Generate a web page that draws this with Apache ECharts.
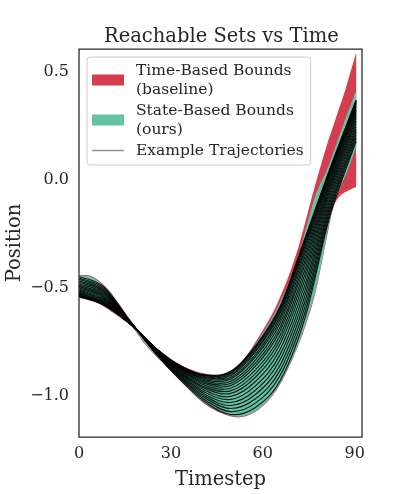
<!DOCTYPE html>
<html>
<head>
<meta charset="utf-8">
<script src="https://cdn.jsdelivr.net/npm/echarts@6/dist/echarts.min.js"></script>
<style>
  html, body { margin: 0; padding: 0; background: #fff; }
  #chart { width: 395px; height: 494px; }
</style>
</head>
<body>
<div id="chart"></div>
<script>
// band boundaries
const bandSteps = [0, 4, 9.1, 13.1, 17.2, 22.2, 28.3, 34.4, 40.4, 46.5, 52.6, 58.6, 64.7, 70.8, 76.8, 80.9, 82.9, 84.9, 86.9, 90.5]
const timeUpper = [-0.442, -0.446, -0.501, -0.576, -0.658, -0.741, -0.816, -0.866, -0.896, -0.901, -0.851, -0.730, -0.575, -0.350, -0.040, 0.160, 0.245, 0.330, 0.415, 0.590]
const timeLower = [-0.549, -0.556, -0.596, -0.636, -0.680, -0.774, -0.862, -0.951, -1.032, -1.082, -1.101, -1.066, -0.970, -0.795, -0.545, -0.270, -0.135, -0.080, -0.058, -0.032]
const stateUpper = [-0.446, -0.450, -0.505, -0.580, -0.662, -0.745, -0.820, -0.870, -0.900, -0.905, -0.855, -0.740, -0.595, -0.390, -0.090, 0.045, 0.120, 0.200, 0.280, 0.415]
const stateLower = [-0.545, -0.552, -0.592, -0.632, -0.676, -0.770, -0.858, -0.947, -1.028, -1.078, -1.097, -1.062, -0.965, -0.790, -0.535, -0.260, -0.120, -0.045, 0.015, 0.150]

// example trajectories
const trajSteps = [0, 8.1, 17.2, 25.3, 33.4, 41.4, 49.5, 57.6, 65.7, 73.8, 81.9, 90.5]
const trajectories = [
  [-0.448, -0.496, -0.664, -0.810, -0.932, -1.032, -1.088, -1.055, -0.930, -0.640, -0.170, 0.180],
  [-0.455, -0.502, -0.665, -0.808, -0.927, -1.023, -1.074, -1.035, -0.906, -0.614, -0.155, 0.193],
  [-0.461, -0.508, -0.665, -0.806, -0.922, -1.014, -1.060, -1.015, -0.882, -0.588, -0.139, 0.207],
  [-0.468, -0.514, -0.666, -0.804, -0.918, -1.005, -1.046, -0.995, -0.858, -0.562, -0.124, 0.220],
  [-0.474, -0.520, -0.667, -0.802, -0.913, -0.996, -1.032, -0.975, -0.833, -0.536, -0.108, 0.233],
  [-0.481, -0.526, -0.668, -0.801, -0.908, -0.987, -1.018, -0.955, -0.809, -0.510, -0.093, 0.247],
  [-0.488, -0.532, -0.668, -0.799, -0.903, -0.978, -1.004, -0.935, -0.785, -0.485, -0.078, 0.260],
  [-0.494, -0.538, -0.669, -0.797, -0.899, -0.969, -0.990, -0.915, -0.761, -0.459, -0.062, 0.273],
  [-0.500, -0.543, -0.670, -0.795, -0.895, -0.962, -0.978, -0.898, -0.740, -0.436, -0.049, 0.285],
  [-0.505, -0.548, -0.670, -0.794, -0.891, -0.954, -0.966, -0.881, -0.720, -0.414, -0.036, 0.296],
  [-0.511, -0.553, -0.671, -0.792, -0.886, -0.946, -0.954, -0.864, -0.699, -0.392, -0.023, 0.307],
  [-0.516, -0.557, -0.671, -0.791, -0.883, -0.940, -0.944, -0.850, -0.682, -0.374, -0.012, 0.317],
  [-0.520, -0.562, -0.672, -0.789, -0.880, -0.933, -0.934, -0.836, -0.664, -0.355, -0.001, 0.326],
  [-0.525, -0.566, -0.672, -0.788, -0.876, -0.927, -0.924, -0.821, -0.647, -0.337, 0.010, 0.336],
  [-0.529, -0.569, -0.673, -0.787, -0.874, -0.922, -0.916, -0.810, -0.633, -0.322, 0.019, 0.343],
  [-0.533, -0.573, -0.673, -0.786, -0.871, -0.917, -0.908, -0.798, -0.619, -0.307, 0.028, 0.351],
  [-0.535, -0.575, -0.673, -0.785, -0.869, -0.913, -0.902, -0.790, -0.609, -0.296, 0.035, 0.357],
  [-0.538, -0.578, -0.674, -0.784, -0.867, -0.909, -0.896, -0.781, -0.599, -0.285, 0.041, 0.362],
  [-0.540, -0.579, -0.674, -0.784, -0.865, -0.907, -0.892, -0.776, -0.592, -0.277, 0.046, 0.366],
  [-0.542, -0.581, -0.674, -0.783, -0.864, -0.904, -0.888, -0.770, -0.585, -0.270, 0.050, 0.370]
]

const xTicks = [0, 30, 60, 90]
const yTicks = [-1.0, -0.5, 0.0, 0.5]

const RED = '#d53e4f'
const GREEN = '#66c2a5'
const LEGEND_LINE = '#8c8c8c'
const INK = '#262626'
const FONT = 'DejaVu Serif'

const timeName = 'Time-Based Bounds\n(baseline)'
const stateName = 'State-Based Bounds\n(ours)'
const trajName = 'Example Trajectories'

// smooth curve through pixel points (cubic Hermite along x)
const bezierSegs = (pts) => {
  const n = pts.length
  const slope = (i) => {
    const a = pts[Math.max(i - 1, 0)]
    const b = pts[Math.min(i + 1, n - 1)]
    return (b[1] - a[1]) / (b[0] - a[0])
  }
  const segs = []
  for (let i = 0; i < n - 1; i++) {
    const p = pts[i]
    const q = pts[i + 1]
    const d = (q[0] - p[0]) / 3
    segs.push([p, [p[0] + d, p[1] + slope(i) * d], [q[0] - d, q[1] - slope(i + 1) * d], q])
  }
  return segs
}
const fwd = (segs) => segs.map((s) => `C${s[1]} ${s[2]} ${s[3]}`).join('')
const back = (segs) => segs.slice().reverse().map((s) => `C${s[2]} ${s[1]} ${s[0]}`).join('')

// band: area between upper and lower curves
const bandSeries = (name, lower, upper, color) => ({
  type: 'custom', name, coordinateSystem: 'cartesian2d', silent: true,
  itemStyle: { color },
  data: [[bandSteps[0], upper[0]]],
  renderItem: (params, api) => {
    const up = bezierSegs(bandSteps.map((t, i) => api.coord([t, upper[i]])))
    const lo = bezierSegs(bandSteps.map((t, i) => api.coord([t, lower[i]])))
    const last = lo[lo.length - 1][3]
    return {
      type: 'path',
      shape: { pathData: `M${up[0][0]}${fwd(up)}L${last}${back(lo)}Z` },
      style: { fill: color, stroke: null },
    }
  },
})

const trajSeries = {
  type: 'custom', name: trajName, coordinateSystem: 'cartesian2d', silent: true,
  itemStyle: { color: '#000' },
  data: trajectories.map((ys) => [trajSteps[0], ys[0]]),
  renderItem: (params, api) => {
    const ys = trajectories[params.dataIndex]
    const segs = bezierSegs(trajSteps.map((t, i) => api.coord([t, ys[i]])))
    return {
      type: 'path',
      shape: { pathData: `M${segs[0][0]}${fwd(segs)}` },
      style: { fill: null, stroke: '#000', lineWidth: 1.2, opacity: 0.85 },
    }
  },
}

const myChart = echarts.init(document.getElementById('chart'))
myChart.setOption({
  animation: false,
  title: {
    text: 'Reachable Sets vs Time',
    left: 99, top: 22,
    textStyle: { fontFamily: FONT, fontSize: 19.5, fontWeight: 'normal', color: INK },
  },
  legend: {
    left: 87, top: 57, orient: 'vertical', align: 'left',
    padding: [4, 7, 5, 5], itemGap: 2, itemWidth: 32, itemHeight: 11,
    backgroundColor: 'rgba(255,255,255,0.8)', borderColor: '#cccccc', borderWidth: 1, borderRadius: 3,
    textStyle: { fontFamily: FONT, fontSize: 15.5, lineHeight: 19, color: INK, padding: [0, 0, 0, 7] },
    data: [
      { name: timeName, icon: 'rect', itemStyle: { color: RED } },
      { name: stateName, icon: 'rect', itemStyle: { color: GREEN } },
      { name: trajName, icon: 'path://M0,0H32V1.4H0Z', itemStyle: { color: LEGEND_LINE } },
    ],
  },
  grid: {
    left: 79, right: 33, top: 49, bottom: 57, outerBoundsMode: 'none', containLabel: false,
    show: true, borderColor: INK, borderWidth: 1.25, backgroundColor: '#fff',
  },
  xAxis: {
    type: 'value', min: 0, max: 92.4,
    name: 'Timestep', nameLocation: 'middle', nameGap: 33, nameMoveOverlap: false,
    nameTextStyle: { fontFamily: FONT, fontSize: 19.5, color: INK },
    axisLine: { show: false }, axisTick: { show: false }, splitLine: { show: false },
    axisLabel: { customValues: xTicks, margin: 9, fontFamily: FONT, fontSize: 16, color: INK },
  },
  yAxis: {
    type: 'value', min: -1.192, max: 0.606,
    name: 'Position', nameLocation: 'middle', nameGap: 54, nameMoveOverlap: false,
    nameTextStyle: { fontFamily: FONT, fontSize: 19.5, color: INK },
    axisLine: { show: false }, axisTick: { show: false }, splitLine: { show: false },
    axisLabel: {
      customValues: yTicks, margin: 10, fontFamily: FONT, fontSize: 16, color: INK,
      formatter: (v) => v.toFixed(1).replace('-', '\u2212'),
    },
  },
  series: [
    bandSeries(timeName, timeLower, timeUpper, RED),
    bandSeries(stateName, stateLower, stateUpper, GREEN),
    trajSeries,
  ],
})
</script>
</body>
</html>
